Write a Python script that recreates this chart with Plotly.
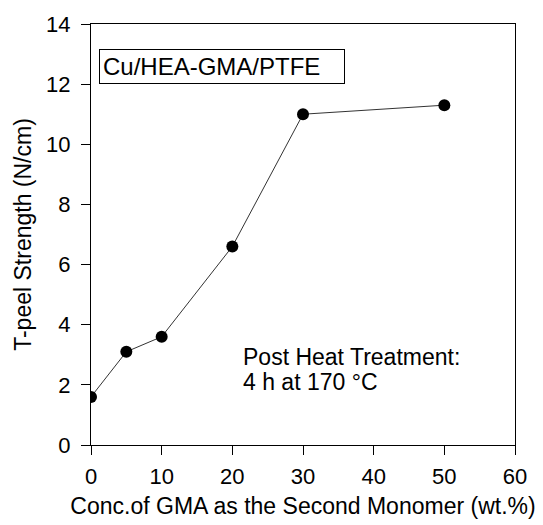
import plotly.graph_objects as go

# GMA concentration in the monomer feed (wt.%) and measured T-peel strength (N/cm)
gma_conc = [0, 5, 10, 20, 30, 50]
peel_strength = [1.6, 3.1, 3.6, 6.6, 11.0, 11.3]

x_ticks = [0, 10, 20, 30, 40, 50, 60]
y_ticks = [0, 2, 4, 6, 8, 10, 12, 14]

FONT = "Liberation Sans, Arial, sans-serif"

fig = go.Figure()
fig.add_trace(go.Scatter(
    x=gma_conc, y=peel_strength, mode="lines+markers",
    line=dict(color="#333333", width=1),
    marker=dict(color="black", size=12),
    showlegend=False,
))

axis_common = dict(
    showline=True, linecolor="black", linewidth=1, mirror=True,
    ticks="outside", ticklen=9, tickcolor="black", tickwidth=1,
    showgrid=False, zeroline=False, automargin=False,
    tickfont=dict(family=FONT, size=22, color="black"),
)

fig.update_xaxes(
    range=[0, 60], tickvals=x_ticks, ticklabelstandoff=3,
    title=dict(text="Conc.of GMA as the Second Monomer (wt.%)",
               font=dict(family=FONT, size=23, color="black"), standoff=9),
    **axis_common,
)
fig.update_yaxes(
    range=[0, 14], tickvals=y_ticks, ticklabelstandoff=6,
    title=dict(text="T-peel Strength (N/cm)",
               font=dict(family=FONT, size=23, color="black"), standoff=8),
    **axis_common,
)

# boxed sample label
fig.add_annotation(
    x=0.019, y=0.899, xref="paper", yref="paper", xanchor="left", yanchor="middle",
    text="Cu/HEA-GMA/PTFE", showarrow=False, align="left", width=238,
    font=dict(family=FONT, size=24, color="black"),
    bordercolor="black", borderwidth=1, borderpad=3, bgcolor="white",
)
# treatment note, two lines
fig.add_annotation(
    x=0.353, y=0.209, xref="paper", yref="paper", xanchor="left", yanchor="middle",
    text="Post Heat Treatment:", showarrow=False,
    font=dict(family=FONT, size=23, color="black"),
)
fig.add_annotation(
    x=0.353, y=0.150, xref="paper", yref="paper", xanchor="left", yanchor="middle",
    text="4 h at 170 °C", showarrow=False,
    font=dict(family=FONT, size=23, color="black"),
)

fig.update_layout(
    width=543, height=525,
    margin=dict(l=91, r=28, t=24, b=80),
    paper_bgcolor="white", plot_bgcolor="white",
)

fig.write_html("out.html")
